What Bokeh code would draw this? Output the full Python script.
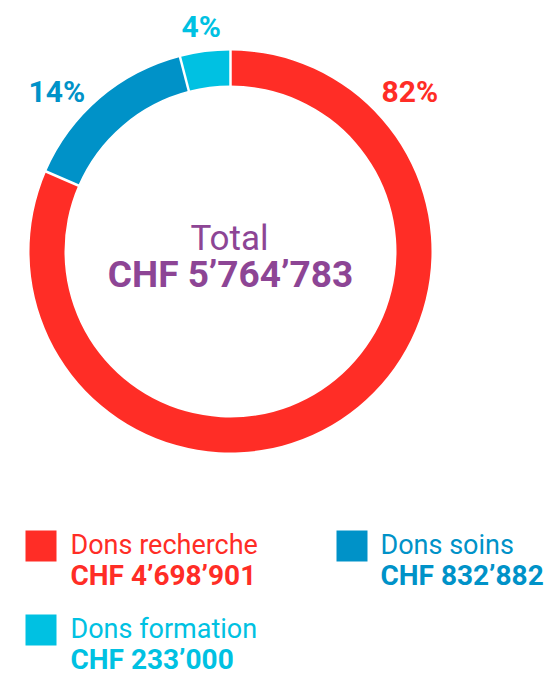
import numpy as np
from bokeh.plotting import figure
from bokeh.models import Range1d
from bokeh.core.properties import value
from bokeh.embed import file_html
from bokeh.resources import INLINE

# ---- data ----
categories = ["Dons recherche", "Dons soins", "Dons formation"]
amounts = [4698901, 832882, 233000]
amount_labels = ["CHF 4’698’901", "CHF 832’882", "CHF 233’000"]
pct_labels = ["82%", "14%", "4%"]
colors = ["#FF2D26", "#0092C8", "#00C1E2"]
total_title = "Total"
total_label = "CHF 5’764’783"
purple = "#8D4595"

W, H = 557, 675
FONT = "Roboto"
DY = 9  # baseline correction (pixels, upwards)

p = figure(width=W, height=H, x_range=Range1d(0, W), y_range=Range1d(0, H),
           output_backend="svg", toolbar_location=None, min_border=0)
p.axis.visible = False
p.grid.visible = False
p.outline_line_color = None


def ty(py):
    return H - py + DY


# ---- donut ----
cx, cy = 230, H - 251
r_in, r_out = 166, 201
fr = np.array(amounts, dtype=float) / sum(amounts)
cum = np.concatenate([[0.0], np.cumsum(fr)])
start = np.pi / 2 - 2 * np.pi * cum[:-1]
end = np.pi / 2 - 2 * np.pi * cum[1:]
p.annular_wedge(x=cx, y=cy, inner_radius=r_in, outer_radius=r_out,
                inner_radius_units="screen", outer_radius_units="screen",
                start_angle=start, end_angle=end, direction="clock",
                fill_color=colors, line_color=None)
# white separators
ang = start
x0 = cx + (r_in - 2) * np.cos(ang)
y0 = cy + (r_in - 2) * np.sin(ang)
x1 = cx + (r_out + 2) * np.cos(ang)
y1 = cy + (r_out + 2) * np.sin(ang)
p.segment(x0=x0, y0=y0, x1=x1, y1=y1, line_color="white", line_width=2.5)

# percent labels
pct_x = [381, 28, 181]
pct_y = [ty(100), ty(100), ty(35)]
p.text(x=pct_x, y=pct_y, text=pct_labels, text_color=colors,
       text_font=value(FONT), text_font_style="bold", text_font_size="30px",
       text_align="left", text_baseline="alphabetic")

# centre text
p.text(x=[229], y=[ty(247)], text=[total_title], text_color=purple,
       text_font=value(FONT), text_font_size="35px",
       text_align="center", text_baseline="alphabetic")
p.text(x=[230], y=[ty(283)], text=[total_label], text_color=purple,
       text_font=value(FONT), text_font_style="bold", text_font_size="37px",
       text_align="center", text_baseline="alphabetic")

# ---- legend ----
sq_left = [25, 336, 25]
sq_top = [530, 530, 614]
txt_x = [70, 380, 70]
p.quad(left=sq_left, right=[l + 31 for l in sq_left],
       top=[H - t for t in sq_top], bottom=[H - t - 31 for t in sq_top],
       fill_color=colors, line_color=None)
p.text(x=txt_x, y=[ty(t + 23) for t in sq_top], text=categories,
       text_color=colors, text_font=value(FONT), text_font_size="27px",
       text_align="left", text_baseline="alphabetic")
p.text(x=txt_x, y=[ty(t + 54) for t in sq_top], text=amount_labels,
       text_color=colors, text_font=value(FONT), text_font_style="bold",
       text_font_size="28px", text_align="left", text_baseline="alphabetic")

open("out.html", "w").write(file_html(p, INLINE))
